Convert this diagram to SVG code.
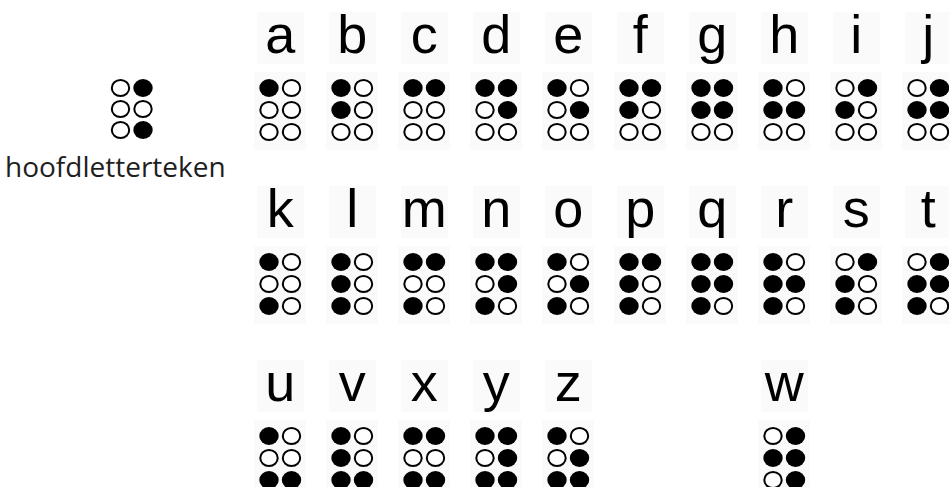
<svg xmlns="http://www.w3.org/2000/svg" width="949" height="487" viewBox="0 0 949 487">
<style>
.bg{fill:#fafafa}
.o{fill:#fff;stroke:#000;stroke-width:2}
.f{fill:#000}
.L{font-family:"Liberation Sans",Arial,sans-serif;font-size:54px;fill:#000;text-anchor:middle}
.cap{font-family:"Open Sans","Noto Sans",sans-serif;font-size:28px;fill:#1e1e1e}
</style>
<defs>
<ellipse id="o" rx="8.7" ry="8" class="o"/>
<ellipse id="f" rx="9.7" ry="9" class="f"/>
</defs>
<rect width="949" height="487" fill="#fff"/>

<g id="hoofdletterteken" transform="translate(120.5,88)">
<use href="#o" x="0" y="0"/><use href="#o" x="0" y="21"/><use href="#o" x="0" y="42"/>
<use href="#f" x="22.5" y="0"/><use href="#o" x="22.5" y="21"/><use href="#f" x="22.5" y="42"/>
<text class="cap" x="-115.5" y="89">hoofdletterteken</text>
</g>

<!-- row 1 -->
<g id="a" transform="translate(269,88)">
<rect class="bg" x="-12" y="-76" width="47" height="52"/><rect class="bg" x="-15" y="-16" width="52" height="78"/>
<text class="L" x="11.25" y="-35">a</text>
<use href="#f" x="0" y="0"/><use href="#o" x="0" y="22"/><use href="#o" x="0" y="44"/>
<use href="#o" x="22.5" y="0"/><use href="#o" x="22.5" y="22"/><use href="#o" x="22.5" y="44"/>
</g>
<g id="b" transform="translate(341,88)">
<rect class="bg" x="-12" y="-76" width="47" height="52"/><rect class="bg" x="-15" y="-16" width="52" height="78"/>
<text class="L" x="11.25" y="-35">b</text>
<use href="#f" x="0" y="0"/><use href="#f" x="0" y="22"/><use href="#o" x="0" y="44"/>
<use href="#o" x="22.5" y="0"/><use href="#o" x="22.5" y="22"/><use href="#o" x="22.5" y="44"/>
</g>
<g id="c" transform="translate(413,88)">
<rect class="bg" x="-12" y="-76" width="47" height="52"/><rect class="bg" x="-15" y="-16" width="52" height="78"/>
<text class="L" x="11.25" y="-35">c</text>
<use href="#f" x="0" y="0"/><use href="#o" x="0" y="22"/><use href="#o" x="0" y="44"/>
<use href="#f" x="22.5" y="0"/><use href="#o" x="22.5" y="22"/><use href="#o" x="22.5" y="44"/>
</g>
<g id="d" transform="translate(485,88)">
<rect class="bg" x="-12" y="-76" width="47" height="52"/><rect class="bg" x="-15" y="-16" width="52" height="78"/>
<text class="L" x="11.25" y="-35">d</text>
<use href="#f" x="0" y="0"/><use href="#o" x="0" y="22"/><use href="#o" x="0" y="44"/>
<use href="#f" x="22.5" y="0"/><use href="#f" x="22.5" y="22"/><use href="#o" x="22.5" y="44"/>
</g>
<g id="e" transform="translate(557,88)">
<rect class="bg" x="-12" y="-76" width="47" height="52"/><rect class="bg" x="-15" y="-16" width="52" height="78"/>
<text class="L" x="11.25" y="-35">e</text>
<use href="#f" x="0" y="0"/><use href="#o" x="0" y="22"/><use href="#o" x="0" y="44"/>
<use href="#o" x="22.5" y="0"/><use href="#f" x="22.5" y="22"/><use href="#o" x="22.5" y="44"/>
</g>
<g id="f-cell" transform="translate(629,88)">
<rect class="bg" x="-12" y="-76" width="47" height="52"/><rect class="bg" x="-15" y="-16" width="52" height="78"/>
<text class="L" x="11.25" y="-35">f</text>
<use href="#f" x="0" y="0"/><use href="#f" x="0" y="22"/><use href="#o" x="0" y="44"/>
<use href="#f" x="22.5" y="0"/><use href="#o" x="22.5" y="22"/><use href="#o" x="22.5" y="44"/>
</g>
<g id="g" transform="translate(701,88)">
<rect class="bg" x="-12" y="-76" width="47" height="52"/><rect class="bg" x="-15" y="-16" width="52" height="78"/>
<text class="L" x="11.25" y="-35">g</text>
<use href="#f" x="0" y="0"/><use href="#f" x="0" y="22"/><use href="#o" x="0" y="44"/>
<use href="#f" x="22.5" y="0"/><use href="#f" x="22.5" y="22"/><use href="#o" x="22.5" y="44"/>
</g>
<g id="h" transform="translate(773,88)">
<rect class="bg" x="-12" y="-76" width="47" height="52"/><rect class="bg" x="-15" y="-16" width="52" height="78"/>
<text class="L" x="11.25" y="-35">h</text>
<use href="#f" x="0" y="0"/><use href="#f" x="0" y="22"/><use href="#o" x="0" y="44"/>
<use href="#o" x="22.5" y="0"/><use href="#f" x="22.5" y="22"/><use href="#o" x="22.5" y="44"/>
</g>
<g id="i" transform="translate(845,88)">
<rect class="bg" x="-12" y="-76" width="47" height="52"/><rect class="bg" x="-15" y="-16" width="52" height="78"/>
<text class="L" x="11.25" y="-35">i</text>
<use href="#o" x="0" y="0"/><use href="#f" x="0" y="22"/><use href="#o" x="0" y="44"/>
<use href="#f" x="22.5" y="0"/><use href="#o" x="22.5" y="22"/><use href="#o" x="22.5" y="44"/>
</g>
<g id="j" transform="translate(917,88)">
<rect class="bg" x="-12" y="-76" width="47" height="52"/><rect class="bg" x="-15" y="-16" width="52" height="78"/>
<text class="L" x="11.25" y="-35">j</text>
<use href="#o" x="0" y="0"/><use href="#f" x="0" y="22"/><use href="#o" x="0" y="44"/>
<use href="#f" x="22.5" y="0"/><use href="#f" x="22.5" y="22"/><use href="#o" x="22.5" y="44"/>
</g>

<!-- row 2 -->
<g id="k" transform="translate(269,262)">
<rect class="bg" x="-12" y="-76" width="47" height="52"/><rect class="bg" x="-15" y="-16" width="52" height="78"/>
<text class="L" x="11.25" y="-35">k</text>
<use href="#f" x="0" y="0"/><use href="#o" x="0" y="22"/><use href="#f" x="0" y="44"/>
<use href="#o" x="22.5" y="0"/><use href="#o" x="22.5" y="22"/><use href="#o" x="22.5" y="44"/>
</g>
<g id="l" transform="translate(341,262)">
<rect class="bg" x="-12" y="-76" width="47" height="52"/><rect class="bg" x="-15" y="-16" width="52" height="78"/>
<text class="L" x="11.25" y="-35">l</text>
<use href="#f" x="0" y="0"/><use href="#f" x="0" y="22"/><use href="#f" x="0" y="44"/>
<use href="#o" x="22.5" y="0"/><use href="#o" x="22.5" y="22"/><use href="#o" x="22.5" y="44"/>
</g>
<g id="m" transform="translate(413,262)">
<rect class="bg" x="-12" y="-76" width="47" height="52"/><rect class="bg" x="-15" y="-16" width="52" height="78"/>
<text class="L" x="11.25" y="-35">m</text>
<use href="#f" x="0" y="0"/><use href="#o" x="0" y="22"/><use href="#f" x="0" y="44"/>
<use href="#f" x="22.5" y="0"/><use href="#o" x="22.5" y="22"/><use href="#o" x="22.5" y="44"/>
</g>
<g id="n" transform="translate(485,262)">
<rect class="bg" x="-12" y="-76" width="47" height="52"/><rect class="bg" x="-15" y="-16" width="52" height="78"/>
<text class="L" x="11.25" y="-35">n</text>
<use href="#f" x="0" y="0"/><use href="#o" x="0" y="22"/><use href="#f" x="0" y="44"/>
<use href="#f" x="22.5" y="0"/><use href="#f" x="22.5" y="22"/><use href="#o" x="22.5" y="44"/>
</g>
<g id="o-cell" transform="translate(557,262)">
<rect class="bg" x="-12" y="-76" width="47" height="52"/><rect class="bg" x="-15" y="-16" width="52" height="78"/>
<text class="L" x="11.25" y="-35">o</text>
<use href="#f" x="0" y="0"/><use href="#o" x="0" y="22"/><use href="#f" x="0" y="44"/>
<use href="#o" x="22.5" y="0"/><use href="#f" x="22.5" y="22"/><use href="#o" x="22.5" y="44"/>
</g>
<g id="p" transform="translate(629,262)">
<rect class="bg" x="-12" y="-76" width="47" height="52"/><rect class="bg" x="-15" y="-16" width="52" height="78"/>
<text class="L" x="11.25" y="-35">p</text>
<use href="#f" x="0" y="0"/><use href="#f" x="0" y="22"/><use href="#f" x="0" y="44"/>
<use href="#f" x="22.5" y="0"/><use href="#o" x="22.5" y="22"/><use href="#o" x="22.5" y="44"/>
</g>
<g id="q" transform="translate(701,262)">
<rect class="bg" x="-12" y="-76" width="47" height="52"/><rect class="bg" x="-15" y="-16" width="52" height="78"/>
<text class="L" x="11.25" y="-35">q</text>
<use href="#f" x="0" y="0"/><use href="#f" x="0" y="22"/><use href="#f" x="0" y="44"/>
<use href="#f" x="22.5" y="0"/><use href="#f" x="22.5" y="22"/><use href="#o" x="22.5" y="44"/>
</g>
<g id="r" transform="translate(773,262)">
<rect class="bg" x="-12" y="-76" width="47" height="52"/><rect class="bg" x="-15" y="-16" width="52" height="78"/>
<text class="L" x="11.25" y="-35">r</text>
<use href="#f" x="0" y="0"/><use href="#f" x="0" y="22"/><use href="#f" x="0" y="44"/>
<use href="#o" x="22.5" y="0"/><use href="#f" x="22.5" y="22"/><use href="#o" x="22.5" y="44"/>
</g>
<g id="s" transform="translate(845,262)">
<rect class="bg" x="-12" y="-76" width="47" height="52"/><rect class="bg" x="-15" y="-16" width="52" height="78"/>
<text class="L" x="11.25" y="-35">s</text>
<use href="#o" x="0" y="0"/><use href="#f" x="0" y="22"/><use href="#f" x="0" y="44"/>
<use href="#f" x="22.5" y="0"/><use href="#o" x="22.5" y="22"/><use href="#o" x="22.5" y="44"/>
</g>
<g id="t" transform="translate(917,262)">
<rect class="bg" x="-12" y="-76" width="47" height="52"/><rect class="bg" x="-15" y="-16" width="52" height="78"/>
<text class="L" x="11.25" y="-35">t</text>
<use href="#o" x="0" y="0"/><use href="#f" x="0" y="22"/><use href="#f" x="0" y="44"/>
<use href="#f" x="22.5" y="0"/><use href="#f" x="22.5" y="22"/><use href="#o" x="22.5" y="44"/>
</g>

<!-- row 3 -->
<g id="u" transform="translate(269,436)">
<rect class="bg" x="-12" y="-76" width="47" height="52"/><rect class="bg" x="-15" y="-16" width="52" height="78"/>
<text class="L" x="11.25" y="-35">u</text>
<use href="#f" x="0" y="0"/><use href="#o" x="0" y="22"/><use href="#f" x="0" y="44"/>
<use href="#o" x="22.5" y="0"/><use href="#o" x="22.5" y="22"/><use href="#f" x="22.5" y="44"/>
</g>
<g id="v" transform="translate(341,436)">
<rect class="bg" x="-12" y="-76" width="47" height="52"/><rect class="bg" x="-15" y="-16" width="52" height="78"/>
<text class="L" x="11.25" y="-35">v</text>
<use href="#f" x="0" y="0"/><use href="#f" x="0" y="22"/><use href="#f" x="0" y="44"/>
<use href="#o" x="22.5" y="0"/><use href="#o" x="22.5" y="22"/><use href="#f" x="22.5" y="44"/>
</g>
<g id="x" transform="translate(413,436)">
<rect class="bg" x="-12" y="-76" width="47" height="52"/><rect class="bg" x="-15" y="-16" width="52" height="78"/>
<text class="L" x="11.25" y="-35">x</text>
<use href="#f" x="0" y="0"/><use href="#o" x="0" y="22"/><use href="#f" x="0" y="44"/>
<use href="#f" x="22.5" y="0"/><use href="#o" x="22.5" y="22"/><use href="#f" x="22.5" y="44"/>
</g>
<g id="y" transform="translate(485,436)">
<rect class="bg" x="-12" y="-76" width="47" height="52"/><rect class="bg" x="-15" y="-16" width="52" height="78"/>
<text class="L" x="11.25" y="-35">y</text>
<use href="#f" x="0" y="0"/><use href="#o" x="0" y="22"/><use href="#f" x="0" y="44"/>
<use href="#f" x="22.5" y="0"/><use href="#f" x="22.5" y="22"/><use href="#f" x="22.5" y="44"/>
</g>
<g id="z" transform="translate(557,436)">
<rect class="bg" x="-12" y="-76" width="47" height="52"/><rect class="bg" x="-15" y="-16" width="52" height="78"/>
<text class="L" x="11.25" y="-35">z</text>
<use href="#f" x="0" y="0"/><use href="#o" x="0" y="22"/><use href="#f" x="0" y="44"/>
<use href="#o" x="22.5" y="0"/><use href="#f" x="22.5" y="22"/><use href="#f" x="22.5" y="44"/>
</g>
<g id="w" transform="translate(773,436)">
<rect class="bg" x="-12" y="-76" width="47" height="52"/><rect class="bg" x="-15" y="-16" width="52" height="78"/>
<text class="L" x="11.25" y="-35">w</text>
<use href="#o" x="0" y="0"/><use href="#f" x="0" y="22"/><use href="#o" x="0" y="44"/>
<use href="#f" x="22.5" y="0"/><use href="#f" x="22.5" y="22"/><use href="#f" x="22.5" y="44"/>
</g>
</svg>
